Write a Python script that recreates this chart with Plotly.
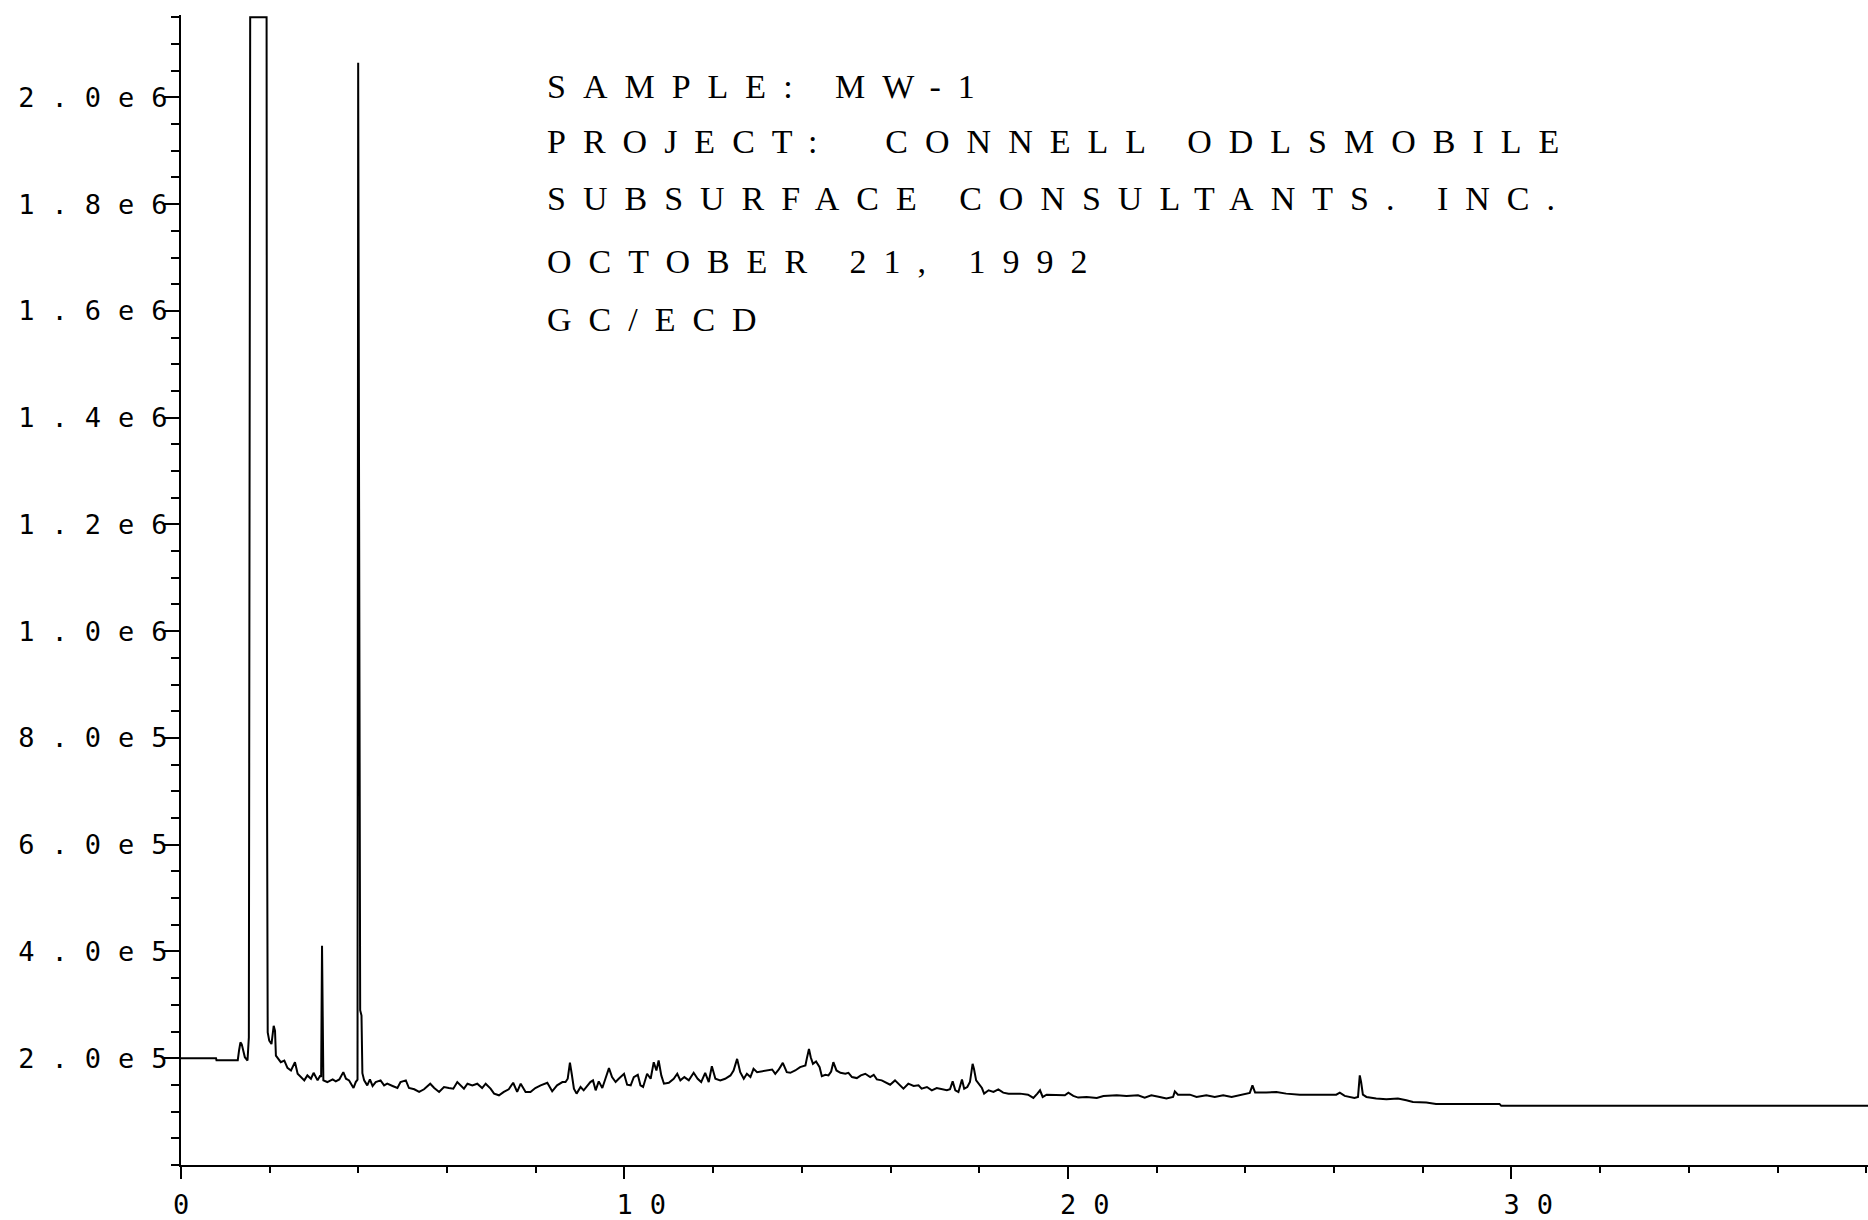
import plotly.graph_objects as go

# GC/ECD chromatogram, sample MW-1: retention time (min) and detector response
time_min = [
    0.00, 0.79, 0.80, 1.28, 1.31, 1.34, 1.37, 1.39, 1.44, 1.50, 1.53,
    1.56, 1.93, 1.94, 1.955, 1.99, 2.04, 2.09, 2.12, 2.14, 2.19, 2.25,
    2.33, 2.40, 2.48, 2.57, 2.63, 2.70, 2.78, 2.85, 2.93, 2.99, 3.08,
    3.14, 3.16, 3.18, 3.20, 3.21, 3.30, 3.42, 3.49, 3.57, 3.66, 3.72,
    3.79, 3.89, 3.94, 3.98, 3.995, 4.015, 4.03, 4.04, 4.07, 4.09, 4.13,
    4.20, 4.26, 4.32, 4.39, 4.50, 4.58, 4.65, 4.77, 4.88, 4.95, 5.07,
    5.14, 5.26, 5.37, 5.48, 5.62, 5.71, 5.82, 5.93, 6.04, 6.14, 6.23,
    6.31, 6.38, 6.46, 6.57, 6.68, 6.79, 6.87, 6.98, 7.06, 7.17, 7.28,
    7.39, 7.49, 7.58, 7.66, 7.77, 7.88, 7.99, 8.11, 8.26, 8.37, 8.48,
    8.60, 8.67, 8.72, 8.77, 8.81, 8.86, 8.92, 9.01, 9.08, 9.16, 9.23,
    9.29, 9.35, 9.42, 9.50, 9.57, 9.65, 9.72, 9.80, 9.87, 9.99, 10.06,
    10.14, 10.21, 10.30, 10.36, 10.42, 10.51, 10.59, 10.66, 10.72, 10.77,
    10.83, 10.89, 11.00, 11.11, 11.19, 11.26, 11.35, 11.45, 11.56, 11.65,
    11.73, 11.82, 11.90, 11.97, 12.05, 12.16, 12.27, 12.39, 12.46, 12.54,
    12.58, 12.61, 12.69, 12.76, 12.84, 12.91, 12.99, 13.10, 13.21, 13.33,
    13.40, 13.48, 13.57, 13.66, 13.74, 13.85, 13.96, 14.08, 14.11, 14.16,
    14.20, 14.25, 14.32, 14.40, 14.45, 14.53, 14.60, 14.66, 14.71, 14.78,
    14.87, 14.98, 15.05, 15.13, 15.24, 15.33, 15.43, 15.54, 15.62, 15.69,
    15.80, 15.92, 15.99, 16.10, 16.22, 16.29, 16.40, 16.52, 16.63, 16.70,
    16.82, 16.93, 17.04, 17.16, 17.27, 17.34, 17.40, 17.46, 17.53, 17.61,
    17.66, 17.73, 17.79, 17.85, 17.88, 17.93, 17.98, 18.06, 18.11, 18.21,
    18.32, 18.43, 18.54, 18.66, 18.77, 18.92, 19.10, 19.22, 19.31, 19.37,
    19.43, 19.52, 19.93, 20.01, 20.12, 20.23, 20.42, 20.65, 20.80, 21.10,
    21.32, 21.58, 21.73, 21.88, 22.07, 22.22, 22.37, 22.41, 22.48, 22.75,
    22.90, 23.12, 23.31, 23.50, 23.69, 23.87, 24.10, 24.16, 24.22, 24.47,
    24.70, 24.92, 25.23, 26.05, 26.13, 26.24, 26.46, 26.54, 26.58, 26.61,
    26.65, 26.73, 26.95, 27.18, 27.44, 27.63, 27.78, 28.08, 28.30, 29.73,
    29.77, 31.53, 38.04,
]

response = [
    200.0e3, 200.0e3, 196.3e3, 196.3e3, 215.0e3, 229.7e3, 226.0e3, 220.4e3, 201.9e3, 195.7e3, 239.0e3,
    2150e3, 2150e3, 698e3, 248.3e3, 232.8e3, 226.6e3, 260.7e3, 251.4e3, 205.0e3, 198.8e3, 192.6e3,
    195.7e3, 182.0e3, 177.1e3, 192.6e3, 170.9e3, 164.7e3, 158.5e3, 167.8e3, 161.6e3, 172.7e3, 158.5e3,
    167.8e3, 165.0e3, 410.6e3, 165.0e3, 158.5e3, 155.4e3, 160.3e3, 156.6e3, 160.3e3, 174.0e3, 161.6e3,
    158.5e3, 144.2e3, 155.4e3, 160.0e3, 2065e3, 1180e3, 1100e3, 290.0e3, 280.0e3, 172.0e3, 158.5e3,
    149.2e3, 160.3e3, 148.0e3, 155.4e3, 158.5e3, 149.2e3, 152.3e3, 148.0e3, 144.2e3, 155.4e3, 158.5e3,
    144.2e3, 141.8e3, 136.8e3, 141.8e3, 152.3e3, 144.2e3, 136.8e3, 146.1e3, 144.2e3, 143.0e3, 155.4e3,
    149.2e3, 143.0e3, 152.3e3, 149.2e3, 152.3e3, 144.2e3, 152.3e3, 143.0e3, 133.7e3, 130.6e3, 136.8e3,
    141.8e3, 154.1e3, 136.8e3, 152.3e3, 136.8e3, 136.8e3, 144.2e3, 149.2e3, 154.1e3, 138.0e3, 149.2e3,
    155.4e3, 155.4e3, 161.6e3, 191.9e3, 170.9e3, 143.0e3, 133.7e3, 146.1e3, 139.9e3, 148.0e3, 155.4e3,
    158.5e3, 139.9e3, 156.6e3, 144.2e3, 161.6e3, 181.4e3, 164.7e3, 155.4e3, 161.6e3, 170.9e3, 150.4e3,
    149.2e3, 164.7e3, 169.0e3, 149.2e3, 146.1e3, 170.9e3, 161.6e3, 192.6e3, 177.1e3, 195.7e3,
    167.8e3, 152.3e3, 154.1e3, 161.6e3, 170.9e3, 158.5e3, 164.7e3, 158.5e3, 172.7e3, 161.6e3,
    155.4e3, 172.7e3, 155.4e3, 185.1e3, 161.6e3, 158.5e3, 161.6e3, 167.8e3, 177.1e3, 198.8e3,
    186.4e3, 174.0e3, 161.6e3, 170.9e3, 164.7e3, 180.2e3, 174.0e3, 175.2e3, 177.1e3, 178.9e3,
    170.9e3, 178.9e3, 191.3e3, 174.0e3, 172.7e3, 177.1e3, 183.3e3, 186.4e3, 198.8e3, 217.3e3,
    201.9e3, 189.5e3, 193.8e3, 183.3e3, 166.5e3, 169.0e3, 167.8e3, 175.2e3, 192.6e3, 177.1e3,
    172.7e3, 170.9e3, 172.7e3, 164.7e3, 162.8e3, 167.8e3, 170.9e3, 164.7e3, 169.0e3, 160.3e3,
    158.5e3, 154.1e3, 150.4e3, 158.5e3, 149.2e3, 143.0e3, 152.3e3, 148.0e3, 149.2e3, 143.0e3,
    146.1e3, 139.9e3, 144.2e3, 141.8e3, 139.9e3, 141.8e3, 156.6e3, 139.9e3, 136.8e3, 160.3e3,
    143.0e3, 146.1e3, 155.4e3, 189.5e3, 180.2e3, 158.5e3, 152.3e3, 144.2e3, 133.7e3, 139.9e3,
    136.8e3, 141.8e3, 135.6e3, 133.7e3, 133.7e3, 133.7e3, 131.8e3, 125.6e3, 133.7e3, 139.9e3,
    127.5e3, 131.8e3, 130.6e3, 135.6e3, 129.4e3, 126.3e3, 127.5e3, 125.6e3, 129.4e3, 130.6e3,
    129.4e3, 130.6e3, 126.3e3, 130.6e3, 127.5e3, 124.4e3, 127.5e3, 138.0e3, 131.8e3, 131.8e3,
    127.5e3, 130.6e3, 127.5e3, 130.6e3, 127.5e3, 130.6e3, 135.0e3, 149.2e3, 135.6e3, 135.6e3,
    136.8e3, 133.7e3, 131.8e3, 131.8e3, 135.6e3, 129.4e3, 125.6e3, 127.5e3, 167.8e3, 155.4e3,
    131.8e3, 127.5e3, 124.4e3, 123.2e3, 124.4e3, 121.3e3, 118.2e3, 117.0e3, 114.5e3, 114.5e3,
    110.8e3, 110.8e3, 110.8e3,
]

y_tick_vals = [2e5, 4e5, 6e5, 8e5, 1.0e6, 1.2e6, 1.4e6, 1.6e6, 1.8e6, 2.0e6]
y_tick_text = ["2.0e5", "4.0e5", "6.0e5", "8.0e5", "1.0e6",
               "1.2e6", "1.4e6", "1.6e6", "1.8e6", "2.0e6"]
x_tick_vals = [0, 10, 20, 30]
x_tick_text = ["0", "10", "20", "30"]

header_lines = [
    "SAMPLE: MW-1",
    "PROJECT:  CONNELL ODLSMOBILE",
    "SUBSURFACE CONSULTANTS. INC.",
    "OCTOBER 21, 1992",
    "GC/ECD",
]
header_y = [0.9379, 0.8896, 0.8404, 0.7860, 0.7351]

fig = go.Figure()
fig.add_trace(go.Scatter(
    x=time_min, y=response, mode="lines",
    line=dict(color="black", width=2),
    showlegend=False, hoverinfo="x+y",
))

tick_font = dict(family="DejaVu Sans Mono", size=27, color="black")

fig.update_layout(
    width=1868, height=1220,
    margin=dict(l=181, r=0, t=15, b=46),
    paper_bgcolor="white", plot_bgcolor="white",
    showlegend=False,
)
fig.update_xaxes(
    range=[0, 38.04], showgrid=False, zeroline=False,
    showline=True, linecolor="black", linewidth=2,
    tickmode="array", tickvals=x_tick_vals, ticktext=x_tick_text,
    ticks="outside", ticklen=12, tickwidth=2, tickcolor="black",
    tickfont=tick_font, ticklabelstandoff=3, ticklabelshift=-8,
    minor=dict(dtick=2, tick0=0, ticks="outside", ticklen=6,
               tickwidth=1.5, tickcolor="black", showgrid=False),
)
fig.update_yaxes(
    range=[0, 2.1543e6], showgrid=False, zeroline=False,
    showline=True, linecolor="black", linewidth=2,
    tickmode="array", tickvals=y_tick_vals, ticktext=y_tick_text,
    ticks="outside", ticklen=15, tickwidth=2, tickcolor="black",
    tickfont=tick_font, ticklabelstandoff=-26,
    minor=dict(dtick=5e4, tick0=0, ticks="outside", ticklen=8,
               tickwidth=1.5, tickcolor="black", showgrid=False),
)

for line, yy in zip(header_lines, header_y):
    fig.add_annotation(
        text=line, xref="paper", yref="paper", x=0.2155, y=yy,
        xanchor="left", yanchor="middle", align="left", showarrow=False,
        font=dict(family="Liberation Serif", size=34, color="black"),
    )

# plotter-style wide letter spacing; x labels start with the first digit on the tick
spacing_css = (".annotation-text{letter-spacing:17px}"
               ".xtick text,.ytick text{letter-spacing:17px}"
               ".xtick text{text-anchor:start}")
post_js = ("var s=document.createElement('style');"
           "s.textContent='" + spacing_css + "';"
           "document.head.appendChild(s);")

fig.write_html("out.html", post_script=post_js)
